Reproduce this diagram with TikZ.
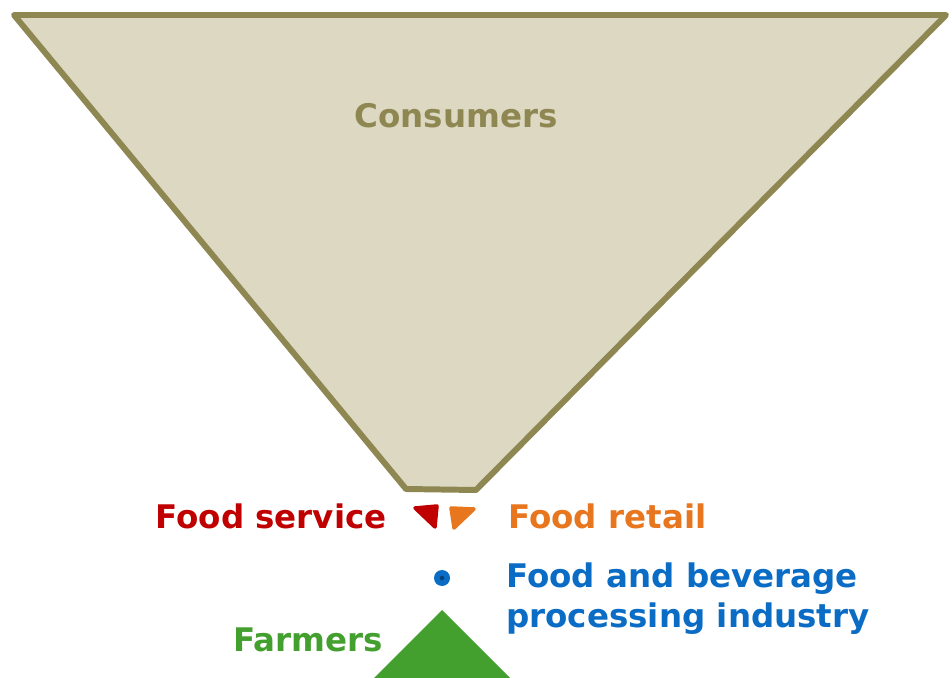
\documentclass[tikz,border=0pt]{standalone}
\usepackage{fontspec}
\setmainfont{DejaVu Sans}
\usetikzlibrary{positioning}
\definecolor{consfill}{HTML}{DCD8C2}
\definecolor{consline}{HTML}{8E8752}
\definecolor{constext}{HTML}{8E8752}
\definecolor{servred}{HTML}{C00000}
\definecolor{retailorange}{HTML}{E8761E}
\definecolor{procblue}{HTML}{0A6CC4}
\definecolor{farmgreen}{HTML}{43A02E}
\tikzset{
  %chain label style
  stage/.style={
    font=\bfseries\fontsize{18.5}{22}\selectfont
    , inner sep=0pt
    , align=left
  },
  %funnel shape
  funnel/.style={
    draw=consline
    , fill=consfill
    , line width=3.4pt
    , line join=round
  },
  %small marker triangles
  marker/.style={
    draw=#1
    , fill=#1
    , line width=2pt
    , line join=round
  },
}
\begin{document}
\begin{tikzpicture}[x=0.02cm, y=-0.02cm]
  \useasboundingbox (0,0) rectangle (952,678);
  \clip (0,0) rectangle (952,678);

  % consumers funnel
  \coordinate (tl) at (14,15);
  \coordinate (tr) at (946,15);
  \coordinate (br) at (476,490);
  \coordinate (bl) at (406,489);
  \draw[funnel] (tl) -- (tr) -- (br) -- (bl) -- cycle;
  \node[stage, text=constext] (consumers) at (456,116) {Consumers};

  % food service / retail
  \draw[marker=servred] (415,508) -- (437,506) -- (435,527) -- cycle;
  \draw[marker=retailorange] (451,508) -- (474,509) -- (454,528) -- cycle;
  \node[stage, text=servred, anchor=east] (service) at (387,516) {Food service};
  \node[stage, text=retailorange, anchor=west] (retail) at (508,516) {Food retail};

  % processing
  \fill[procblue] (442,578) circle[radius=0.16cm];
  \fill[procblue!60!black] (442,578) circle[radius=0.045cm];
  \node[stage, text=procblue, anchor=north west] (processing) at (506,562)
    {Food and beverage\\[1pt]processing industry};

  % farmers
  \fill[farmgreen] (442,610) -- (522,690) -- (362,690) -- cycle;
  \node[stage, text=farmgreen, anchor=east] (farmers) at (383,640) {Farmers};
\end{tikzpicture}
\end{document}
